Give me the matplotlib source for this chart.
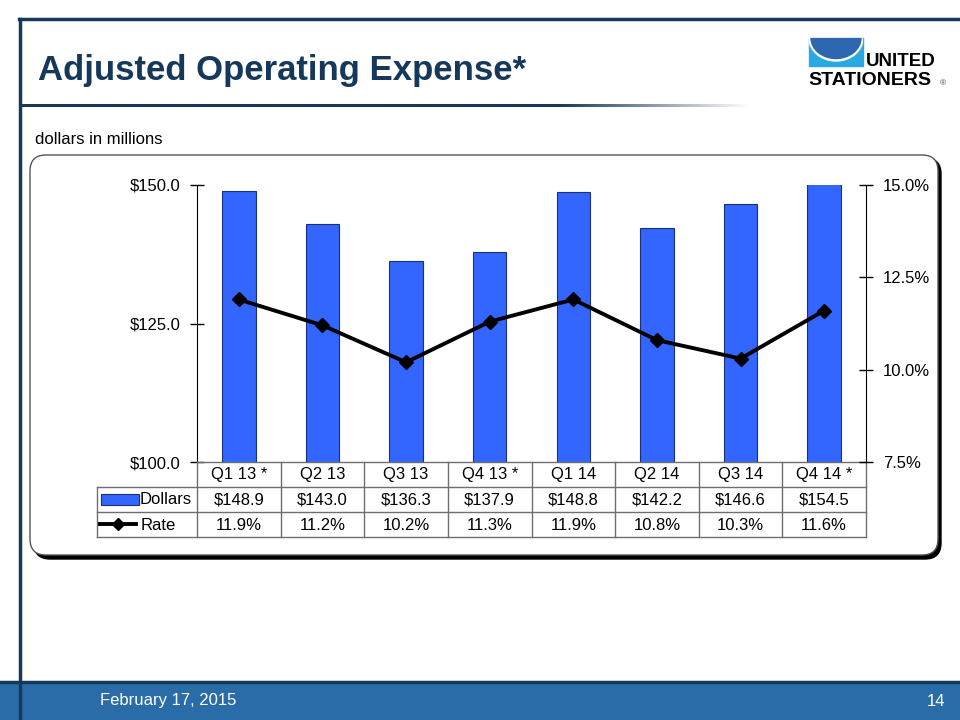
import numpy as np
import matplotlib
matplotlib.use("Agg")
import matplotlib.pyplot as plt
from matplotlib.patches import FancyBboxPatch, Rectangle, Ellipse
from matplotlib.lines import Line2D
from matplotlib.transforms import blended_transform_factory

plt.rcParams['font.family'] = ['Liberation Sans', 'DejaVu Sans']

# data
quarters = ["Q1 13 *", "Q2 13", "Q3 13", "Q4 13 *", "Q1 14", "Q2 14", "Q3 14", "Q4 14 *"]
dollars = [148.9, 143.0, 136.3, 137.9, 148.8, 142.2, 146.6, 154.5]   # $ millions
rate = [11.9, 11.2, 10.2, 11.3, 11.9, 10.8, 10.3, 11.6]              # % of sales
dollar_ticks = [100, 125, 150]
rate_ticks = [7.5, 10.0, 12.5, 15.0]

NAVY = "#16385a"
BAR = "#3366ff"
GRID = "#6e6e6e"
FS = 12

W, H = 960, 720
fig = plt.figure(figsize=(9.6, 7.2), dpi=100)

def fx(px):
    return px / W

def fy(py):
    return 1 - py / H

def ix(px):
    return px / 100.0

def iy(py):
    return (H - py) / 100.0

inch = fig.dpi_scale_trans

# slide frame
fig.add_artist(Rectangle((0, 0), 1, fy(682), transform=fig.transFigure, color="#2a6ca7", zorder=-2))
fig.add_artist(Line2D([0, 1], [fy(682), fy(682)], color=NAVY, lw=2.5))
fig.add_artist(Line2D([fx(19), 1], [fy(19), fy(19)], color=NAVY, lw=2.5))
fig.add_artist(Line2D([fx(20), fx(20)], [fy(19), 0], color=NAVY, lw=2.5))

fig.text(fx(38), fy(80), "Adjusted Operating Expense*", fontsize=25, fontweight="bold",
         color=NAVY, ha="left", va="baseline")

# title underline fading to white
gx = fig.add_axes([fx(22), fy(107), fx(750) - fx(22), 3 / H])
grad = np.ones((1, 400, 4))
grad[..., :3] = matplotlib.colors.to_rgb(NAVY)
t = np.linspace(22, 750, 400)
grad[0, :, 3] = np.clip((750 - t) / (750 - 560), 0, 1)
gx.imshow(grad, aspect="auto", interpolation="bilinear")
gx.axis("off")

# logo
box = Rectangle((ix(809), iy(66)), ix(863) - ix(809), (66 - 38) / 100, transform=inch,
                color="#2aa8e0")
fig.add_artist(box)
rim = Ellipse((ix(836), iy(38)), 0.54, 0.46, transform=inch, color="white")
bowl = Ellipse((ix(836), iy(38)), 0.50, 0.41, transform=inch, color="#2d67b0")
for p in (rim, bowl):
    fig.add_artist(p)
    p.set_clip_path(box)
fig.text(fx(866), fy(66), "UNITED", fontsize=13.5, fontweight="bold", color="black",
         ha="left", va="baseline")
fig.text(fx(808), fy(85), "STATIONERS", fontsize=14, fontweight="bold", color="black",
         ha="left", va="baseline")
fig.text(fx(940), fy(85), "®", fontsize=6, color="#444444", ha="left", va="baseline")

fig.text(fx(35), fy(140), "dollars in millions", fontsize=FS, ha="left", va="center")

# chart frame with shadow
fig.add_artist(FancyBboxPatch((ix(34), iy(559)), ix(941) - ix(34), (559 - 158) / 100,
                              boxstyle="round,pad=0,rounding_size=0.16", transform=inch,
                              facecolor="black", edgecolor="black", lw=1, zorder=-1.5))
fig.add_artist(FancyBboxPatch((ix(30), iy(555)), ix(938) - ix(30), (555 - 155) / 100,
                              boxstyle="round,pad=0,rounding_size=0.16", transform=inch,
                              facecolor="white", edgecolor="#555555", lw=1, zorder=-1))

# chart
ax = fig.add_axes([fx(197), fy(462), fx(866) - fx(197), (462 - 185) / H])
x = np.arange(len(quarters))
ax.bar(x, dollars, width=0.4, color=BAR, edgecolor="#1b2f7a", lw=0.8, zorder=2)
ax.set_xlim(-0.5, len(quarters) - 0.5)
ax.set_ylim(100, 150)
ax.set_yticks(dollar_ticks)
ax.set_yticklabels(["$%.1f" % v for v in dollar_ticks])
ax.set_xticks([])
ax.set_facecolor("none")
for s in ("top", "bottom", "right"):
    ax.spines[s].set_visible(False)
ax.tick_params(axis="y", direction="inout", length=10, width=1, labelsize=FS, pad=7)

ax2 = ax.twinx()
ax2.plot(x, rate, color="black", lw=2.8, marker="D", ms=7, zorder=3)
ax2.set_ylim(7.5, 15)
ax2.set_yticks(rate_ticks)
ax2.set_yticklabels(["%.1f%%" % v for v in rate_ticks])
for s in ("top", "bottom", "left"):
    ax2.spines[s].set_visible(False)
ax2.tick_params(axis="y", direction="inout", length=10, width=1, labelsize=FS, pad=7)
ax.set_zorder(1)
ax2.set_zorder(2)

# data table under the chart
tr = blended_transform_factory(ax.transData, fig.transFigure)
rows = [462, 487, 512, 537]
edges = np.arange(len(quarters) + 1) - 0.5
fig.add_artist(Line2D([edges[0], edges[-1]], [fy(rows[0])] * 2, transform=tr, color=GRID, lw=1))
for r in rows[1:]:
    fig.add_artist(Line2D([fx(97), fx(866)], [fy(r)] * 2, transform=fig.transFigure,
                          color=GRID, lw=1))
for e in edges:
    fig.add_artist(Line2D([e, e], [fy(rows[0]), fy(rows[-1])], transform=tr, color=GRID, lw=1))
fig.add_artist(Line2D([fx(97), fx(97)], [fy(rows[1]), fy(rows[-1])], transform=fig.transFigure,
                      color=GRID, lw=1))

for i, q in enumerate(quarters):
    fig.text(i, fy(475), q, transform=tr, fontsize=FS, ha="center", va="center")
    fig.text(i, fy(500), "$%.1f" % dollars[i], transform=tr, fontsize=FS, ha="center", va="center")
    fig.text(i, fy(525), "%.1f%%" % rate[i], transform=tr, fontsize=FS, ha="center", va="center")

fig.add_artist(Rectangle((ix(101), iy(505)), 0.38, 0.11, transform=inch, facecolor=BAR,
                         edgecolor="#1b2f7a", lw=0.8))
fig.add_artist(Line2D([fx(100), fx(136)], [fy(524)] * 2, color="black", lw=2.8))
fig.add_artist(Line2D([fx(118)], [fy(524)], color="black", marker="D", ms=6))
fig.text(fx(140), fy(500), "Dollars", fontsize=FS, ha="left", va="center")
fig.text(fx(141), fy(525), "Rate", fontsize=FS, ha="left", va="center")

# footer
fig.text(fx(100), fy(701), "February 17, 2015", fontsize=12, color="white", ha="left", va="center")
fig.text(fx(945), fy(701), "14", fontsize=12, color="white", ha="right", va="center")

fig.savefig("out.png", dpi=100)
